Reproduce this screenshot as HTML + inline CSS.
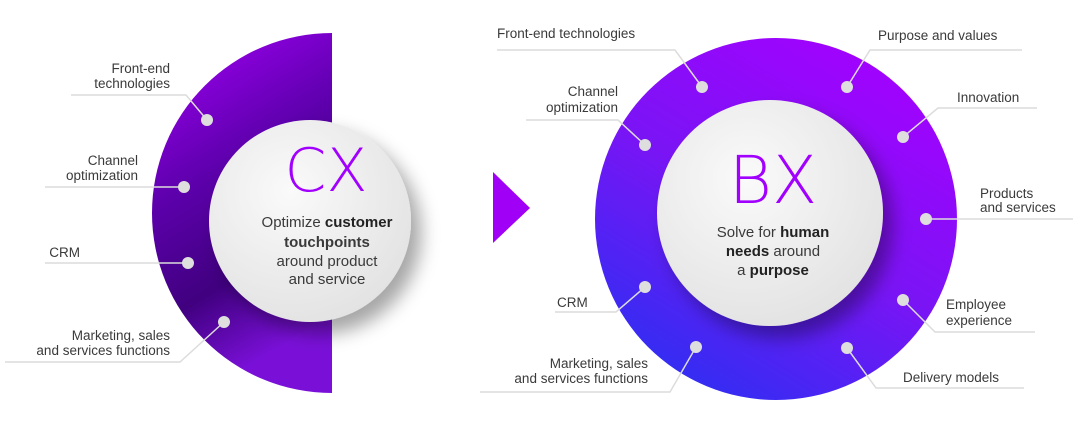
<!DOCTYPE html>
<html><head><meta charset="utf-8"><style>
html,body{margin:0;padding:0;background:#fff;width:1081px;height:432px;overflow:hidden}
svg{display:block}
text{font-family:"Liberation Sans",sans-serif;fill:#3a3a3a}
.l{font-size:13.5px}
.s{font-size:15px}
.big{font-family:"DejaVu Sans","Liberation Sans",sans-serif;font-weight:200;fill:#a100ff}
</style></head><body>
<svg width="1081" height="432" viewBox="0 0 1081 432">
<defs>
<linearGradient id="gl" x1="0" y1="0" x2="0.3" y2="1">
<stop offset="0" stop-color="#a400f8"/>
<stop offset="0.45" stop-color="#5c00ab"/>
<stop offset="0.75" stop-color="#40007f"/>
<stop offset="1" stop-color="#7a10d8"/>
</linearGradient>
<linearGradient id="gr" x1="0.8" y1="0" x2="0.2" y2="1">
<stop offset="0" stop-color="#a600ff"/>
<stop offset="0.5" stop-color="#7a14f5"/>
<stop offset="1" stop-color="#2a30f2"/>
</linearGradient>
<radialGradient id="wc" cx="0.4" cy="0.35" r="0.7">
<stop offset="0" stop-color="#fafafa"/>
<stop offset="1" stop-color="#e2e2e2"/>
</radialGradient>
<filter id="sh" x="-30%" y="-30%" width="160%" height="160%">
<feDropShadow dx="10" dy="12" stdDeviation="9" flood-color="#000" flood-opacity="0.35"/>
</filter>
</defs>

<!-- LEFT half ring -->
<path d="M332,33 A180,180 0 0 0 332,393 Z" fill="url(#gl)"/>
<circle cx="310" cy="221" r="101" fill="url(#wc)" filter="url(#sh)"/>
<text x="326" y="191" text-anchor="middle" class="big" style="font-size:60px">CX</text>
<text x="327" y="227" text-anchor="middle" class="s">Optimize <tspan font-weight="bold" fill="#222">customer</tspan></text>
<text x="327" y="247" text-anchor="middle" class="s" font-weight="bold" fill="#222">touchpoints</text>
<text x="327" y="266" text-anchor="middle" class="s">around product</text>
<text x="327" y="284" text-anchor="middle" class="s">and service</text>

<g stroke="#dcdcdc" stroke-width="1.5" fill="none">
<polyline points="71,95 186,95 207,120"/>
<polyline points="45,187 184,187"/>
<polyline points="45,263 188,263"/>
<polyline points="5,362 180,362 224,322"/>
</g>
<g fill="#dedede">
<circle cx="207" cy="120" r="6"/><circle cx="184" cy="187" r="6"/>
<circle cx="188" cy="263" r="6"/><circle cx="224" cy="322" r="6"/>
</g>
<g class="l" text-anchor="end">
<text x="170" y="73">Front-end</text><text x="170" y="88">technologies</text>
<text x="138" y="165">Channel</text><text x="138" y="180">optimization</text>
<text x="80" y="257">CRM</text>
<text x="170" y="340">Marketing, sales</text><text x="170" y="355">and services functions</text>
</g>

<!-- arrow -->
<polygon points="493,172 530,208 493,243" fill="#a000f5"/>

<!-- RIGHT ring -->
<circle cx="776" cy="219" r="181" fill="url(#gr)"/>
<circle cx="770" cy="213" r="113" fill="url(#wc)" filter="url(#sh)"/>
<text x="773" y="203" text-anchor="middle" class="big" style="font-size:66px">BX</text>
<text x="773" y="237" text-anchor="middle" class="s">Solve for <tspan font-weight="bold" fill="#222">human</tspan></text>
<text x="773" y="256" text-anchor="middle" class="s"><tspan font-weight="bold" fill="#222">needs</tspan> around</text>
<text x="773" y="275" text-anchor="middle" class="s">a <tspan font-weight="bold" fill="#222">purpose</tspan></text>

<g stroke="#dcdcdc" stroke-width="1.5" fill="none">
<polyline points="497,50 675,50 702,87"/>
<polyline points="526,120 618,120 645,145"/>
<polyline points="555,312 616,312 645,287"/>
<polyline points="480,392 670,392 696,347"/>
<polyline points="1022,50 870,50 847,87"/>
<polyline points="1037,108 938,108 903,137"/>
<polyline points="926,219 1073,219"/>
<polyline points="903,300 935,332 1035,332"/>
<polyline points="847,348 876,388 1024,388"/>
</g>
<g fill="#dedede">
<circle cx="702" cy="87" r="6"/><circle cx="645" cy="145" r="6"/>
<circle cx="645" cy="287" r="6"/><circle cx="696" cy="347" r="6"/>
<circle cx="847" cy="87" r="6"/><circle cx="903" cy="137" r="6"/>
<circle cx="926" cy="219" r="6"/><circle cx="903" cy="300" r="6"/>
<circle cx="847" cy="348" r="6"/>
</g>
<g class="l">
<text x="497" y="38">Front-end technologies</text>
<text x="618" y="96" text-anchor="end">Channel</text><text x="618" y="112" text-anchor="end">optimization</text>
<text x="557" y="307">CRM</text>
<text x="648" y="368" text-anchor="end">Marketing, sales</text><text x="648" y="383" text-anchor="end">and services functions</text>
<text x="878" y="40">Purpose and values</text>
<text x="957" y="102">Innovation</text>
<text x="980" y="198">Products</text><text x="980" y="212">and services</text>
<text x="946" y="309">Employee</text><text x="946" y="325">experience</text>
<text x="903" y="382">Delivery models</text>
</g>
</svg>
</body></html>
